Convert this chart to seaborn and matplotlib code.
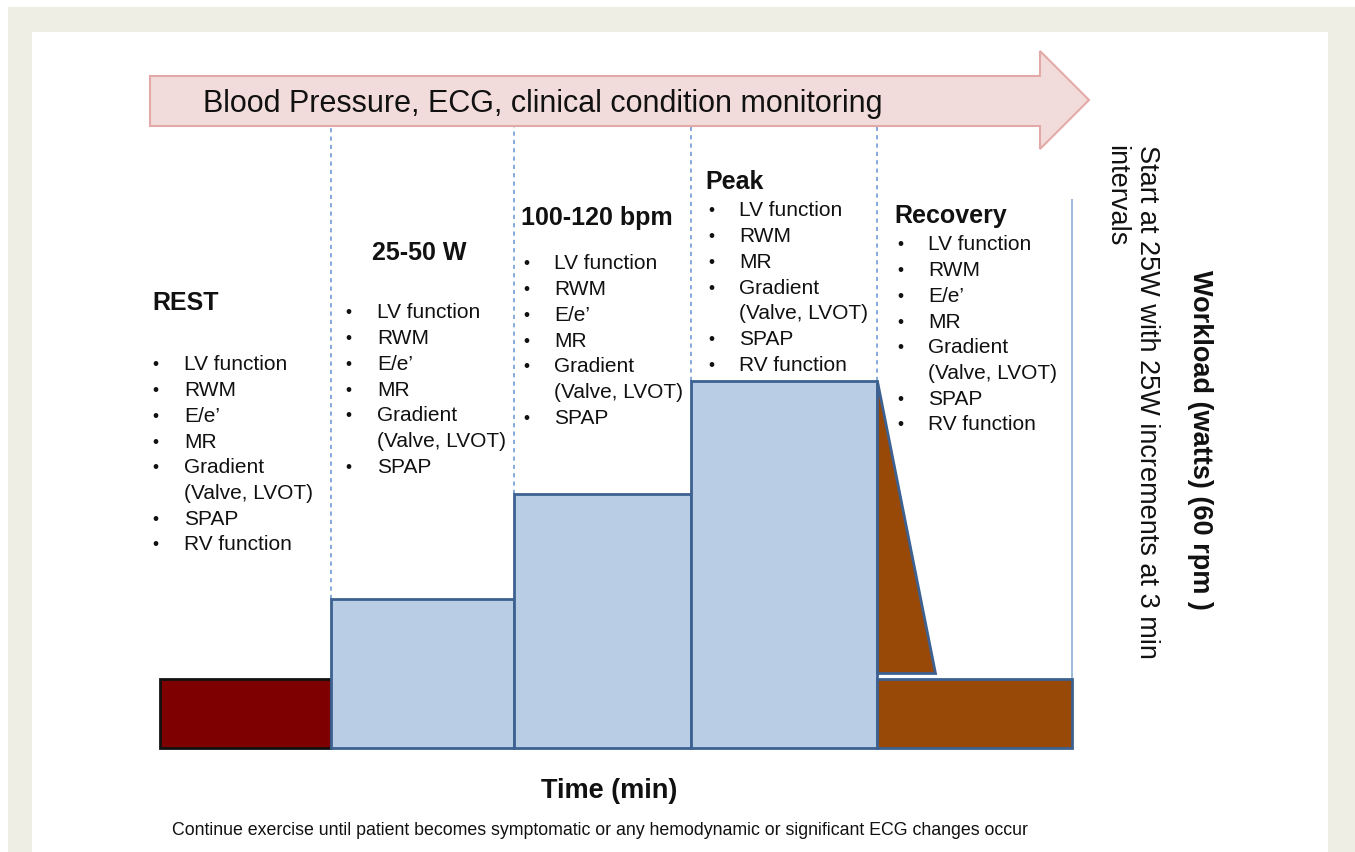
import numpy as np
import matplotlib
matplotlib.use("Agg")
import matplotlib.pyplot as plt
from matplotlib.patches import Polygon, Rectangle
import seaborn as sns

# stages of the exercise protocol
stages = ["REST", "25-50 W", "100-120 bpm", "Peak", "Recovery"]
durations = [2.8, 3.0, 2.9, 3.05, 3.2]      # min
workload = [25, 54, 92, 133, 25]            # watts (relative level)
ramp_drop = [133, 27]                        # recovery ramp, watts
ramp_len = 0.95                              # min

items = {
    "REST": ["LV function", "RWM", "E/e\u2019", "MR", "Gradient\n(Valve, LVOT)", "SPAP", "RV function"],
    "25-50 W": ["LV function", "RWM", "E/e\u2019", "MR", "Gradient\n(Valve, LVOT)", "SPAP"],
    "100-120 bpm": ["LV function", "RWM", "E/e\u2019", "MR", "Gradient\n(Valve, LVOT)", "SPAP"],
    "Peak": ["LV function", "RWM", "MR", "Gradient\n(Valve, LVOT)", "SPAP", "RV function"],
    "Recovery": ["LV function", "RWM", "E/e\u2019", "MR", "Gradient\n(Valve, LVOT)", "SPAP", "RV function"],
}

monitor_text = "Blood Pressure, ECG, clinical condition monitoring"
workload_label = "Workload (watts) (60 rpm )"
increment_text = "Start at 25W with 25W increments at 3 min\nintervals"
time_label = "Time (min)"
footer = ("Continue exercise until patient becomes symptomatic or any hemodynamic "
          "or significant ECG changes occur")

sns.set_theme(style="white")
plt.rcParams["font.family"] = ["Liberation Sans", "DejaVu Sans"]

W, H = 1355, 853
fig = plt.figure(figsize=(W / 100, H / 100), dpi=100)
fig.patch.set_facecolor("white")


def px(x, y):
    return (x / W, 1 - y / H)


# beige frame
fig.patches.append(Rectangle(px(8, 853), (W - 8) / W, (853 - 8) / H,
                             transform=fig.transFigure, facecolor="#eeeee4",
                             edgecolor="none", zorder=-3))
fig.patches.append(Rectangle(px(32, 853), (1328 - 32) / W, (853 - 33) / H,
                             transform=fig.transFigure, facecolor="white",
                             edgecolor="none", zorder=-2))

ax = fig.add_axes([0, 0, 1, 1])
ax.set_zorder(1)
ax.patch.set_alpha(0)
x0, xs = 160, 61.0     # pixel of t=0, pixels per minute
y0, ys = 749, 2.76     # pixel of 0 W, pixels per watt
ax.set_xlim(-x0 / xs, (W - x0) / xs)
ax.set_ylim((y0 - H) / ys, y0 / ys)
ax.set_axis_off()

starts = np.concatenate([[0], np.cumsum(durations)[:-1]])
fills = ["#7f0000", "#b9cde5", "#b9cde5", "#b9cde5", "#984807"]
edges = ["#111111", "#3d6191", "#3d6191", "#3d6191", "#3d6191"]
ax.bar(starts, workload, width=durations, align="edge", color=fills,
       edgecolor=edges, linewidth=2, zorder=3)

# recovery ramp triangle
rs = starts[-1]
tri = Polygon([(rs, ramp_drop[0]), (rs, ramp_drop[1]), (rs + ramp_len, ramp_drop[1])],
              closed=True, facecolor="#984807", edgecolor="#3d6191", linewidth=2, zorder=3)
ax.add_patch(tri)

# dashed separators between stages, up to the monitoring arrow
top_w = (y0 - 128) / ys
for i in range(1, len(stages)):
    lvl = max(workload[i - 1], workload[i])
    ax.vlines(starts[i], lvl, top_w, colors="#6f9bd3", linestyles=(0, (2.5, 2.5)),
              linewidth=1.2, zorder=2)
end_t = starts[-1] + durations[-1]
ax.vlines(end_t, workload[-1], (y0 - 200) / ys, colors="#95b3d7", linewidth=1.3, zorder=2)

# monitoring arrow
arrow = [(150, 77), (1040, 77), (1040, 52), (1089, 101), (1040, 150), (1040, 127), (150, 127)]
fig.patches.append(Polygon([px(x, y) for x, y in arrow], closed=True,
                           transform=fig.transFigure, facecolor="#f2dcdb",
                           edgecolor="#e3a9a7", linewidth=1.5, zorder=-1))
fig.text(*px(203, 104), monitor_text, fontsize=22, ha="left", va="center", color="#111111")

# stage titles and bullet lists
title_pos = [(152, 303), (372, 253), (521, 218), (705, 182), (894, 216)]
list_pos = [(152, 184, 365), (345, 377, 313), (523, 554, 264), (708, 739, 211), (897, 928, 245)]
step = 25.7
for s, (tx, ty), (bx, lx, ly) in zip(stages, title_pos, list_pos):
    fig.text(*px(tx, ty), s, fontsize=18, fontweight="bold", ha="left", va="center",
             color="#111111")
    k = 0
    for it in items[s]:
        fig.text(*px(bx, ly + k * step), "\u2022", fontsize=12.5, ha="left", va="center",
                 color="#111111")
        for line in it.split("\n"):
            fig.text(*px(lx, ly + k * step), line, fontsize=15, ha="left", va="center",
                     color="#111111")
            k += 1

# right-side rotated labels
fig.text(*px(1200, 270), workload_label, fontsize=19.5, fontweight="bold", rotation=-90,
         ha="center", va="top", color="#111111")
fig.text(*px(1132, 145), increment_text, fontsize=19.5, rotation=-90, ha="center",
         va="top", multialignment="left", linespacing=1.25, color="#111111")

fig.text(*px(609, 791), time_label, fontsize=19.5, fontweight="bold", ha="center",
         va="center", color="#111111")
fig.text(*px(600, 831), footer, fontsize=12.75, ha="center", va="center", color="#111111")

fig.savefig("out.png", dpi=100)
